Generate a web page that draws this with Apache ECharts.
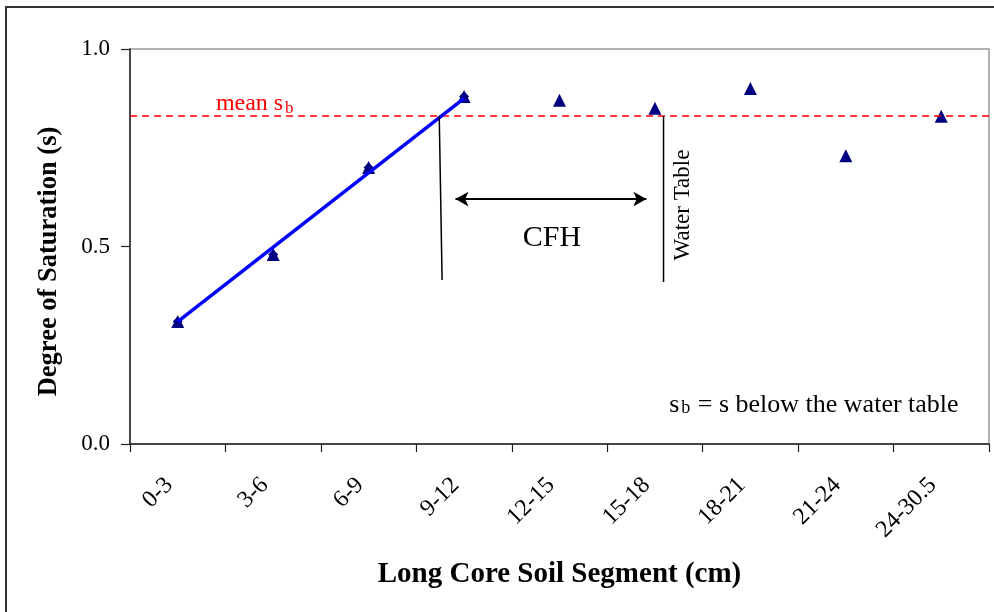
<!DOCTYPE html>
<html>
<head>
<meta charset="utf-8">
<script src="https://cdn.jsdelivr.net/npm/echarts@6/dist/echarts.min.js"></script>
<style>
  html, body { margin: 0; padding: 0; background: #fff; }
  #chart { width: 994px; height: 612px; }
</style>
</head>
<body>
<div id="chart"></div>
<script>
// Soil core segments (cm) and measured degree of saturation
const categories = ['0-3', '3-6', '6-9', '9-12', '12-15', '15-18', '18-21', '21-24', '24-30.5'];
const saturation = [0.31, 0.48, 0.70, 0.88, 0.87, 0.85, 0.90, 0.73, 0.83];
// Segments used for the linear trend (first four)
const trendCount = 4;
// Straight trend line endpoints [segment index, s]
const trendLine = [[0, 0.31], [3, 0.875]];
// Mean saturation below the water table
const meanSb = 0.83;
// Annotation geometry in [segment index, s] units
const cfhEdge = [[2.74, meanSb], [2.77, 0.415]];
const waterTable = [[5.09, meanSb], [5.09, 0.41]];
const cfhArrow = [[2.91, 0.62], [4.91, 0.62]];
const yTickLabels = ['0.0', '0.5', '1.0'];

const serif = '"Liberation Serif", "Times New Roman", serif';
const chart = echarts.init(document.getElementById('chart'), null, { renderer: 'canvas' });

const option = {
  backgroundColor: '#fff',
  animation: false,
  grid: {
    left: 130, right: 5, top: 49, bottom: 168,
    show: true, borderColor: '#999', borderWidth: 1.5, backgroundColor: 'transparent'
  },
  xAxis: [
    {
      type: 'category',
      data: categories,
      boundaryGap: true,
      name: 'Long Core Soil Segment (cm)',
      nameLocation: 'middle',
      nameGap: 116,
      nameTextStyle: { fontFamily: serif, fontWeight: 'bold', fontSize: 29, color: '#000' },
      axisLine: { onZero: false, lineStyle: { color: '#222', width: 1.5 } },
      axisTick: { show: true, length: 8, lineStyle: { color: '#222', width: 1.2 } },
      axisLabel: {
        rotate: 45, interval: 0, margin: 29, padding: [0, 12, 0, 0],
        fontFamily: serif, fontSize: 24, color: '#000'
      },
      splitLine: { show: false }
    },
    {
      type: 'value', min: -0.5, max: 8.5, show: false,
      axisLine: { onZero: false }
    }
  ],
  yAxis: {
    type: 'value',
    min: 0, max: 1, interval: 0.5,
    name: 'Degree of Saturation (s)',
    nameLocation: 'middle',
    nameGap: 67,
    nameTextStyle: {
      fontFamily: serif, fontWeight: 'bold', fontSize: 26.5, color: '#000',
      padding: [0, 30, 0, 0]
    },
    axisLine: { show: true, onZero: false, lineStyle: { color: '#222', width: 1.5 } },
    axisTick: { show: true, length: 9, lineStyle: { color: '#222', width: 1.2 } },
    axisLabel: {
      margin: 20, fontFamily: serif, fontSize: 23, color: '#000',
      formatter: v => yTickLabels[Math.round(v / 0.5)]
    },
    splitLine: { show: false }
  },
  series: [
    {
      name: 'Degree of saturation',
      type: 'scatter',
      data: saturation,
      symbol: 'triangle',
      symbolSize: 13,
      itemStyle: { color: '#000080', opacity: 1 },
      z: 3,
      markLine: {
        silent: true,
        symbol: 'none',
        label: { show: false },
        lineStyle: { color: '#ff0000', type: [7, 5], width: 1.6 },
        data: [{ yAxis: meanSb }]
      }
    },
    {
      name: 'Trend points',
      type: 'scatter',
      data: saturation.slice(0, trendCount),
      symbol: 'diamond',
      symbolSize: 10,
      itemStyle: { color: '#000080', opacity: 1 },
      z: 4
    },
    {
      name: 'Trend',
      type: 'line',
      xAxisIndex: 1,
      data: trendLine,
      symbol: 'none',
      lineStyle: { color: '#0000ff', width: 3.5 },
      z: 5
    },
    {
      name: 'CFH edge',
      type: 'line',
      xAxisIndex: 1,
      data: cfhEdge,
      symbol: 'none',
      lineStyle: { color: '#000', width: 1.5 },
      z: 6
    },
    {
      name: 'Water table',
      type: 'line',
      xAxisIndex: 1,
      data: waterTable,
      symbol: 'none',
      lineStyle: { color: '#000', width: 1.5 },
      z: 6,
      markLine: {
        silent: true,
        symbol: ['arrow', 'arrow'],
        symbolSize: [11, 13],
        label: { show: false },
        lineStyle: { color: '#000', type: 'solid', width: 2 },
        data: [[{ coord: cfhArrow[0] }, { coord: cfhArrow[1] }]]
      }
    }
  ]
};
chart.setOption(option);

// Text annotations placed in data units
function px(pt) { return chart.convertToPixel({ xAxisIndex: 1, yAxisIndex: 0 }, pt); }
const meanPos = px([0.40, 0.862]);
const cfhPos = px([3.92, 0.52]);
const wtPos = px([5.29, 0.605]);
const notePos = px([5.15, 0.098]);

chart.setOption({
  graphic: [
    {
      type: 'rect', silent: true,
      shape: { x: 6, y: 7, width: 1000, height: 700 },
      style: { fill: 'none', stroke: '#333', lineWidth: 2 }
    },
    {
      type: 'text', x: meanPos[0], y: meanPos[1], silent: true,
      style: { text: 'mean s', font: '24px ' + serif, fill: '#ff0000', textAlign: 'left', textVerticalAlign: 'middle' }
    },
    {
      type: 'text', x: meanPos[0] + 69, y: meanPos[1] + 5, silent: true,
      style: { text: 'b', font: '17px ' + serif, fill: '#ff0000', textAlign: 'left', textVerticalAlign: 'middle' }
    },
    {
      type: 'text', x: cfhPos[0], y: cfhPos[1], silent: true,
      style: { text: 'CFH', font: '30px ' + serif, fill: '#000', textAlign: 'center', textVerticalAlign: 'middle' }
    },
    {
      type: 'text', x: wtPos[0], y: wtPos[1], rotation: Math.PI / 2, silent: true,
      style: { text: 'Water Table', font: '23px ' + serif, fill: '#000', textAlign: 'center', textVerticalAlign: 'middle' }
    },
    {
      type: 'text', x: notePos[0], y: notePos[1], silent: true,
      style: { text: 's', font: '26px ' + serif, fill: '#000', textAlign: 'left', textVerticalAlign: 'middle' }
    },
    {
      type: 'text', x: notePos[0] + 12, y: notePos[1] + 3, silent: true,
      style: { text: 'b', font: '18px ' + serif, fill: '#000', textAlign: 'left', textVerticalAlign: 'middle' }
    },
    {
      type: 'text', x: notePos[0] + 22, y: notePos[1], silent: true,
      style: { text: ' = s below the water table', font: '26px ' + serif, fill: '#000', textAlign: 'left', textVerticalAlign: 'middle' }
    }
  ]
});
</script>
</body>
</html>
